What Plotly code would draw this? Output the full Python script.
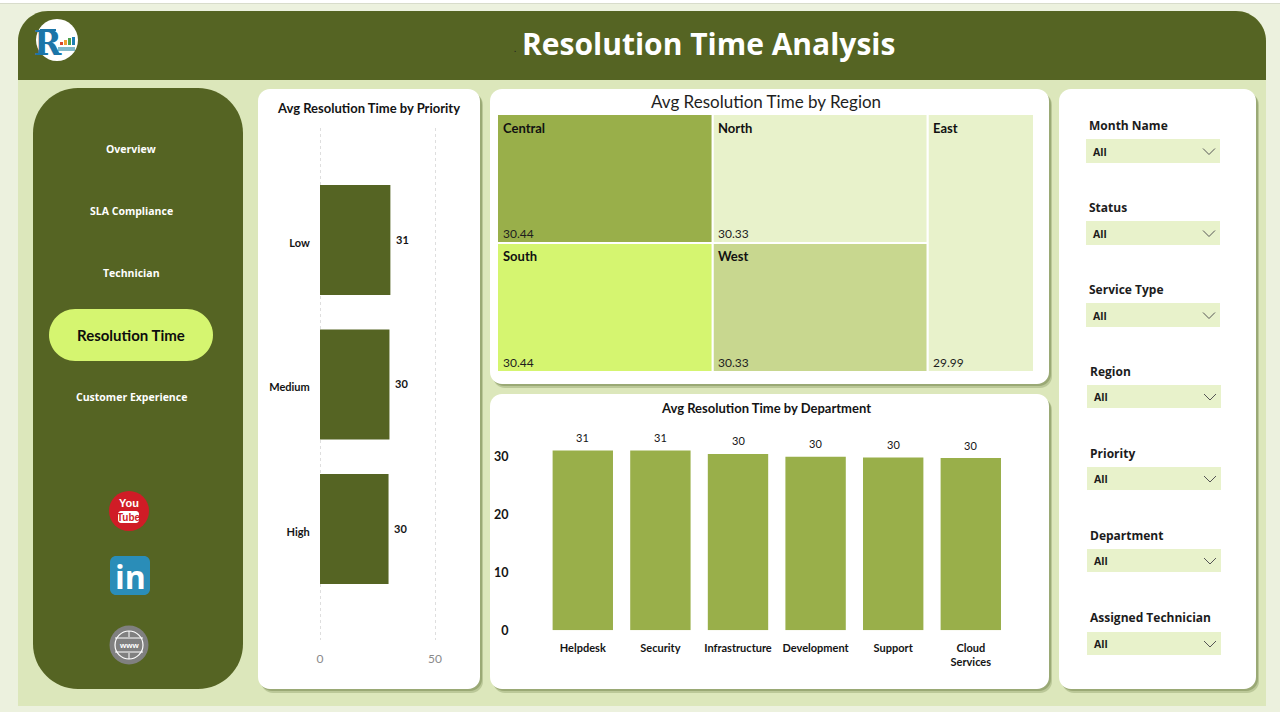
import plotly.graph_objects as go

# chart data
priority_names = ["High", "Medium", "Low"]
priority_hours = [29.8, 30.2, 30.6]

region_names = ["Central", "South", "North", "West", "East"]
region_hours = [30.44, 30.44, 30.33, 30.33, 29.99]
region_colors = ["#99AF4A", "#D5F570", "#E8F2CB", "#C8D78F", "#E8F2CB"]

dept_names = ["Helpdesk", "Security", "Infrastructure", "Development", "Support", "Cloud<br>Services"]
dept_hours = [31.0, 31.0, 30.4, 29.9, 29.8, 29.7]

nav_items = ["Overview", "SLA Compliance", "Technician", "Customer Experience"]
slicer_names = ["Month Name", "Status", "Service Type", "Region", "Priority", "Department", "Assigned Technician"]

W = 1280
H = 712
DARK = "#556423"
MID = "#99AF4A"
PALE = "#E8F2CB"
LIME = "#D5F570"
TXT = "#141414"
DIN = "Lato"
SEGOE = "Open Sans"


def fx(px):
    return px / W


def fy(py):
    return 1 - py / H


def rounded(x0, y0, x1, y1, tl, tr=None, br=None, bl=None):
    tr = tl if tr is None else tr
    br = tl if br is None else br
    bl = tl if bl is None else bl
    k = 0.45
    pts = [
        f"M {fx(x0 + tl)} {fy(y0)}", f"L {fx(x1 - tr)} {fy(y0)}",
        f"C {fx(x1 - tr * k)} {fy(y0)} {fx(x1)} {fy(y0 + tr * k)} {fx(x1)} {fy(y0 + tr)}",
        f"L {fx(x1)} {fy(y1 - br)}",
        f"C {fx(x1)} {fy(y1 - br * k)} {fx(x1 - br * k)} {fy(y1)} {fx(x1 - br)} {fy(y1)}",
        f"L {fx(x0 + bl)} {fy(y1)}",
        f"C {fx(x0 + bl * k)} {fy(y1)} {fx(x0)} {fy(y1 - bl * k)} {fx(x0)} {fy(y1 - bl)}",
        f"L {fx(x0)} {fy(y0 + tl)}",
        f"C {fx(x0)} {fy(y0 + tl * k)} {fx(x0 + tl * k)} {fy(y0)} {fx(x0 + tl)} {fy(y0)}", "Z",
    ]
    return " ".join(pts)


shapes = []
notes = []


def box(x0, y0, x1, y1, color, r=0, tr=None, br=None, bl=None, opacity=1):
    shapes.append(dict(type="path", path=rounded(x0, y0, x1, y1, r, tr, br, bl), xref="paper", yref="paper",
                       fillcolor=color, line_width=0, layer="below", opacity=opacity))


def circle(cx, cy, r, color, line=None, lw=0):
    shapes.append(dict(type="circle", xref="paper", yref="paper", x0=fx(cx - r), x1=fx(cx + r),
                       y0=fy(cy - r), y1=fy(cy + r), fillcolor=color, layer="below",
                       line=dict(color=line or color, width=lw)))


def stroke(points, color, width=1):
    path = "M " + " L ".join(f"{fx(x)} {fy(y)}" for x, y in points)
    shapes.append(dict(type="path", path=path, xref="paper", yref="paper",
                       line=dict(color=color, width=width), layer="below"))


def label(x, y, text, size=12, color=TXT, bold=False, font=DIN, anchor="center"):
    t = f"<b>{text}</b>" if bold else text
    notes.append(dict(x=fx(x), y=fy(y), xref="paper", yref="paper", text=t, showarrow=False,
                      xanchor=anchor, yanchor="middle", font=dict(family=font, size=size, color=color)))


def card(x0, y0, x1, y1, r=12):
    # soft shadow under the white cards
    box(x0 + 3, y0 + 4, x1 + 3, y1 + 4, "#7F8F5A", r, opacity=0.35)
    box(x0 + 2, y0 + 3, x1 + 2, y1 + 2, "#7F8F5A", r, opacity=0.55)
    box(x0, y0, x1, y1, "white", r)


# page background and header
box(0, 0, W, H, "#ECF1DE")
box(0, 0, W, 3, "white")
stroke([(0, 3.5), (W, 3.5)], "#D8DCCB", 1)
box(18, 11, 1266, 706, "#DCE7BB", 30, 30, 0, 0)
box(18, 11, 1266, 80, DARK, 30, 30, 0, 0)
label(708, 43, "Resolution Time Analysis", 30, "white", True, SEGOE)
label(515, 49, ".", 9, "#222222")

# logo
circle(57, 40, 21, "white")
for bx, bh, bc in [(60, 3, "#D9472B"), (64, 5, "#F0A030"), (68, 7, "#4CA24C"), (72, 8, "#1E7FB5")]:
    box(bx, 45 - bh, bx + 3, 45, bc)
box(58, 47, 75, 51, "#7FB8C9")
label(48, 43, "R", 33, "#1B75A8", True, "DejaVu Serif")
stroke([(40, 30), (56, 30)], "#1B75A8", 2)

# left navigation
box(33, 88, 243, 689, DARK, 45)
box(49, 309, 213, 361, LIME, 26)
for item, y in zip(nav_items, [149, 211, 273, 397]):
    label(131, y, item, 10.5, "white", True, SEGOE)
label(131, 335, "Resolution Time", 15, "#0D0D0D", True, DIN)

# social icons
circle(129, 511, 20, "#D01C26")
label(129, 503, "You", 11, "white", True, "Liberation Sans")
box(118, 511, 139, 523, "white", 3)
label(128.5, 517, "Tube", 10, "#D01C26", True, "Liberation Sans")
box(110, 556, 150, 595, "#2A8DB8", 6)
label(130, 576, "in", 32, "white", True, "Open Sans")
circle(129, 645, 19.5, "#808080")
circle(129, 645, 14, "#808080", "white", 1.2)
stroke([(115, 638), (143, 638)], "white", 1)
stroke([(115, 652), (143, 652)], "white", 1)
stroke([(129, 631), (129, 637)], "white", 1)
stroke([(129, 653), (129, 659)], "white", 1)
label(129, 645, "www", 8, "white", True, "Liberation Sans")

# cards
card(258, 89, 480, 689)
card(490, 89, 1049, 384)
card(490, 394, 1049, 689)
card(1059, 89, 1256, 689)

label(368, 108, "Avg Resolution Time by Priority", 13, TXT, True)
label(766, 101, "Avg Resolution Time by Region", 17, "#1E1E1E")
label(766, 408, "Avg Resolution Time by Department", 13, TXT, True)

# slicers
slicer_rows = [(125, 139, 163, 1086), (207, 221, 245, 1086), (289, 303, 327, 1086), (371, 385, 408, 1087),
               (453, 467, 490, 1087), (535, 549, 572, 1087), (617, 632, 655, 1087)]
for name, (ly, y0, y1, x0) in zip(slicer_names, slicer_rows):
    label(x0 + 1, ly, name, 12, "#1C1C1C", True, SEGOE, "left")
    box(x0, y0, x0 + 134, y1, PALE)
    cy = (y0 + y1) / 2 + 0.5
    label(x0 + 5, cy, "All", 10.5, "#1C1C1C", True, SEGOE, "left")
    stroke([(x0 + 117, cy - 3), (x0 + 123, cy + 3), (x0 + 129, cy - 3)], "#555555", 1)

# treemap captions: name at the top left of each cell, value at the bottom left
cell_spots = [(501, 128, 234), (501, 256, 362), (716, 128, 234), (716, 256, 362), (931, 128, 362)]
for name, val, (x, ty, vy) in zip(region_names, region_hours, cell_spots):
    label(x, ty, name, 13, "#111111", True, DIN, "left")
    label(x, vy, f"{val:.2f}", 12, "#1E1E1E", False, DIN, "left")

# bar value labels follow the data, offset in pixels from the bar end
for name, val in zip(priority_names, priority_hours):
    notes.append(dict(x=val, y=name, xref="x", yref="y", text=f"<b>{val:.0f}</b>", showarrow=False,
                      xshift=12, yshift=1, yanchor="middle", font=dict(family=DIN, size=11, color=TXT)))
for name, val in zip(dept_names, dept_hours):
    notes.append(dict(x=name, y=val, xref="x2", yref="y2", text=f"{val:.0f}", showarrow=False,
                      yshift=13, yanchor="middle", font=dict(family=DIN, size=11, color=TXT)))

fig = go.Figure()

fig.add_trace(go.Bar(x=priority_hours, y=priority_names, orientation="h", marker_color=DARK, width=0.76,
                     xaxis="x", yaxis="y", showlegend=False))

fig.add_trace(go.Bar(x=dept_names, y=dept_hours, marker_color=MID, width=0.778,
                     xaxis="x2", yaxis="y2", showlegend=False))

fig.add_trace(go.Treemap(
    labels=region_names, parents=[""] * len(region_names), values=region_hours,
    sort=True, tiling=dict(packing="squarify", pad=0), pathbar=dict(visible=False),
    marker=dict(colors=region_colors, line=dict(color="white", width=2), pad=dict(t=0, l=0, r=0, b=0)),
    textinfo="none",
    domain=dict(x=[fx(497), fx(1034)], y=[fy(372), fy(114)]),
))

fig.update_layout(
    template="none",
    width=W, height=H, margin=dict(l=0, r=0, t=0, b=0), autosize=False,
    paper_bgcolor="#ECF1DE", plot_bgcolor="rgba(0,0,0,0)", shapes=shapes, annotations=notes,
    barmode="overlay",
    xaxis=dict(domain=[fx(318), fx(445)], range=[-0.87, 54.35], tickvals=[0, 50], anchor="y", automargin=False,
               showgrid=True, gridcolor="#DEDEDE", griddash="dot", zeroline=False, showline=False,
               ticks="outside", ticklen=8, tickcolor="rgba(0,0,0,0)",
               tickfont=dict(family=DIN, size=12, color="#8A8A8A")),
    yaxis=dict(domain=[fy(640), fy(128)], type="category", categoryorder="array", categoryarray=priority_names,
               range=[-0.768, 2.775], anchor="x", automargin=False, showgrid=False, zeroline=False, showline=False,
               ticks="outside", ticklen=5, tickcolor="rgba(0,0,0,0)", ticklabelshift=3,
               tickfont=dict(family=DIN, size=11, color=TXT, weight="bold")),
    xaxis2=dict(domain=[fx(544), fx(1009.6)], anchor="y2", type="category", categoryorder="array", automargin=False,
                categoryarray=dept_names, showgrid=False, zeroline=False, showline=False,
                ticks="outside", ticklen=7, tickcolor="rgba(0,0,0,0)", tickangle=0,
                tickfont=dict(family=DIN, size=11, color=TXT, weight="bold")),
    yaxis2=dict(domain=[fy(630.3), fy(430)], range=[0, 34.53], tickvals=[0, 10, 20, 30], anchor="x2", automargin=False,
                showgrid=False, zeroline=False, showline=False,
                ticks="outside", ticklen=32, tickcolor="rgba(0,0,0,0)",
                tickfont=dict(family=DIN, size=12.5, color=TXT, weight="bold")),
)

fig.write_html("out.html", config=dict(displayModeBar=False),
               post_script="document.body.style.margin='0';document.body.style.overflow='hidden';")
